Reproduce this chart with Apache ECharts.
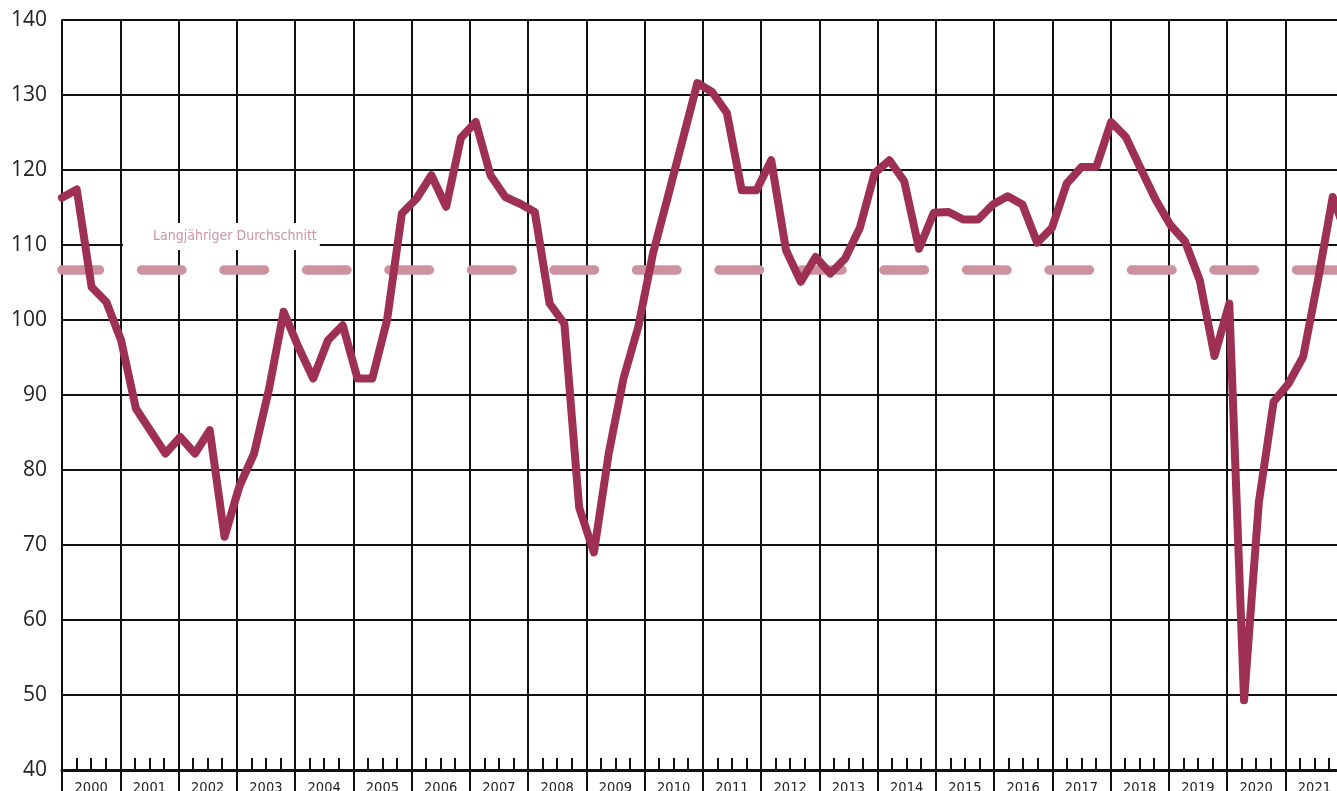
<!DOCTYPE html>
<html>
<head>
<meta charset="utf-8">
<script src="https://cdn.jsdelivr.net/npm/echarts@6/dist/echarts.min.js"></script>
<style>
  html, body { margin: 0; padding: 0; background: #ffffff; }
  #chart { width: 1337px; height: 791px; }
</style>
</head>
<body>
<div id="chart"></div>
<script>
// ---- data ----
const years = ['2000','2001','2002','2003','2004','2005','2006','2007','2008','2009','2010',
               '2011','2012','2013','2014','2015','2016','2017','2018','2019','2020','2021'];
const quarters = ['Q1','Q2','Q3','Q4'];
const indexValues = [
  116.3, 117.4, 104.4, 102.4,   // 2000
   97.3,  88.2,  85.2,  82.2,   // 2001
   84.4,  82.2,  85.3,  71.1,   // 2002
   77.8,  82.2,  90.7, 101.1,   // 2003
   96.4,  92.2,  97.3,  99.3,   // 2004
   92.2,  92.2, 100.0, 114.2,   // 2005
  116.2, 119.3, 115.1, 124.3,   // 2006
  126.4, 119.3, 116.4, 115.5,   // 2007
  114.4, 102.2,  99.5,  75.0,   // 2008
   69.0,  82.2,  92.2,  99.1,   // 2009
  108.9, 116.4, 124.0, 131.6,   // 2010
  130.4, 127.6, 117.3, 117.3,   // 2011
  121.3, 109.3, 105.1, 108.4,   // 2012
  106.2, 108.2, 112.3, 119.6,   // 2013
  121.3, 118.5, 109.5, 114.3,   // 2014
  114.4, 113.4, 113.4, 115.4,   // 2015
  116.5, 115.4, 110.3, 112.3,   // 2016
  118.2, 120.4, 120.4, 126.4,   // 2017
  124.4, 120.2, 116.1, 112.7,   // 2018
  110.5, 105.3,  95.2, 102.2,   // 2019
   49.3,  75.7,  89.1,  91.5,   // 2020
   95.1, 105.3, 116.4, 111.0    // 2021
];
const longTermAverage = 106.7;
const averageLabel = 'Langjähriger Durchschnitt';
const yMin = 40, yMax = 140, yStep = 10;

const quarterCategories = [];
years.forEach(y => quarters.forEach(q => quarterCategories.push(y + ' ' + q)));

const chart = echarts.init(document.getElementById('chart'), null, { renderer: 'canvas' });

const lineColor = '#111111';
const condensed = "'DejaVu Sans Condensed', 'Liberation Sans Narrow', 'Arial Narrow', sans-serif";

const option = {
  backgroundColor: '#ffffff',
  animation: false,
  title: {
    text: averageLabel,
    left: 123,
    top: 223,
    backgroundColor: '#ffffff',
    padding: [5, 3, 5, 30],
    textStyle: {
      color: '#cd93a0',
      fontSize: 14,
      fontWeight: 'normal',
      fontFamily: condensed,
      lineHeight: 17
    }
  },
  grid: [
    { left: 62, top: 20, width: 1281.5, height: 750, outerBoundsMode: 'none', containLabel: false },
    { left: 62, top: 20, width: 1285.5, height: 750, outerBoundsMode: 'none', containLabel: false }
  ],
  xAxis: [
    {
      type: 'value', gridIndex: 0,
      min: 2000, max: 2022, interval: 1,
      axisLine: { show: true, lineStyle: { color: lineColor, width: 3 } },
      axisTick: { show: true, inside: true, length: 12, lineStyle: { color: lineColor, width: 2 } },
      minorTick: { show: true, splitNumber: 4, length: 12, lineStyle: { color: lineColor, width: 2 } },
      axisLabel: { show: false },
      splitLine: { show: true, lineStyle: { color: lineColor, width: 2 } }
    },
    {
      type: 'category', gridIndex: 0,
      data: years, boundaryGap: true, position: 'bottom',
      axisLine: { show: false },
      axisTick: { show: true, length: 22, lineStyle: { color: lineColor, width: 2 } },
      axisLabel: { margin: 11, fontSize: 14.5, fontFamily: condensed, color: '#222222' },
      splitLine: { show: false }
    },
    {
      type: 'category', gridIndex: 1,
      data: quarterCategories, boundaryGap: false,
      show: false
    }
  ],
  yAxis: [
    {
      type: 'value', gridIndex: 0,
      min: yMin, max: yMax, interval: yStep,
      axisLine: { show: true, lineStyle: { color: lineColor, width: 2 } },
      axisTick: { show: false },
      axisLabel: { margin: 15, fontSize: 21, fontFamily: 'Open Sans', color: '#222222' },
      splitLine: { show: true, lineStyle: { color: lineColor, width: 2 } }
    },
    {
      type: 'value', gridIndex: 1,
      min: yMin, max: yMax, interval: yStep,
      show: false
    }
  ],
  series: [
    {
      type: 'line',
      xAxisIndex: 2, yAxisIndex: 1,
      data: indexValues,
      symbol: 'none',
      z: 3,
      lineStyle: { color: '#9e3153', width: 8, cap: 'round', join: 'round' },
      markLine: {
        silent: true,
        symbol: 'none',
        z: 1,
        label: { show: false },
        lineStyle: { color: '#cc929e', width: 9.5, type: [40.5, 42], dashOffset: 3, cap: 'round', opacity: 1 },
        emphasis: { disabled: true },
        data: [{ yAxis: longTermAverage }]
      }
    }
  ]
};

chart.setOption(option);
</script>
</body>
</html>
